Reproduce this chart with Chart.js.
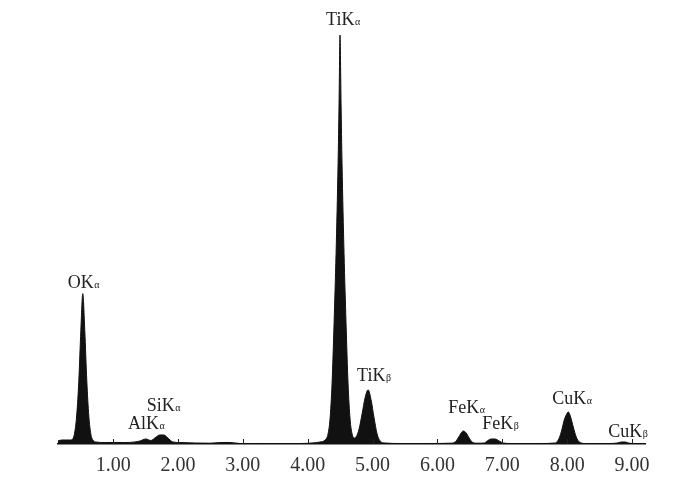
<!DOCTYPE html>
<html>
<head>
<meta charset="utf-8">
<script src="https://cdn.jsdelivr.net/npm/chart.js@4/dist/chart.umd.min.js"></script>
<style>
  html, body { margin: 0; padding: 0; background: #fff; }
  #wrap { width: 700px; height: 489px; }
</style>
</head>
<body>
<div id="wrap"><canvas id="edsChart"></canvas></div>
<script>
// EDS spectrum (energy in keV, intensity in arbitrary units)
const energy = [
  0.147, 0.208, 0.270, 0.332, 0.378, 0.409, 0.440, 0.471, 0.502, 0.532,
  0.563, 0.594, 0.625, 0.656, 0.687, 0.733, 0.872, 1.026, 1.181, 1.335,
  1.412, 1.505, 1.582, 1.644, 1.721, 1.782, 1.860, 1.921, 2.029, 2.261,
  2.492, 2.677, 2.801, 2.955, 3.264, 3.573, 3.881, 4.066, 4.190, 4.267,
  4.313, 4.344, 4.375, 4.406, 4.437, 4.468, 4.483, 4.498, 4.514, 4.529,
  4.560, 4.591, 4.622, 4.653, 4.684, 4.715, 4.745, 4.792, 4.838, 4.884,
  4.931, 4.977, 5.023, 5.070, 5.116, 5.193, 5.424, 5.887, 6.196, 6.273,
  6.319, 6.366, 6.397, 6.443, 6.489, 6.535, 6.613, 6.721, 6.767, 6.829,
  6.890, 6.952, 7.014, 7.122, 7.585, 7.816, 7.863, 7.909, 7.955, 8.002,
  8.017, 8.048, 8.094, 8.140, 8.187, 8.279, 8.665, 8.773, 8.835, 8.897,
  8.958, 9.050, 9.205
];
const counts = [
  3, 4, 4, 4, 5, 12, 30, 63, 113, 150,
  113, 63, 28, 10, 4, 2, 1.5, 1.5, 1.5, 2,
  3, 5, 3.5, 6, 9, 9, 5, 2, 1.5, 1,
  0.8, 1.5, 1.5, 0.5, 0.5, 0.5, 0.5, 1, 2, 4,
  10, 25, 60, 120, 190, 280, 340, 408, 340, 280,
  190, 120, 60, 25, 10, 6, 7, 15, 30, 46,
  54, 44, 26, 10, 3, 1, 0.5, 0.5, 0.8, 2,
  6, 11, 13, 11, 6, 2, 0.8, 1, 3, 5,
  5, 3, 1, 0.5, 0.5, 1, 4, 12, 24, 31,
  32, 28, 17, 7, 2, 0.5, 0.5, 1, 2, 2,
  0.8, 0.5, 0.5
];
const tickValues = [1, 2, 3, 4, 5, 6, 7, 8, 9];

// peak labels: element line, subscript, peak energy
const peakNames = ['OK', 'AlK', 'SiK', 'TiK', 'TiK', 'FeK', 'FeK', 'CuK', 'CuK'];
const peakSubs = ['α', 'α', 'α', 'α', 'β', 'α', 'β', 'α', 'β'];
const peakEnergies = [0.532, 1.505, 1.75, 4.498, 4.931, 6.397, 6.86, 8.017, 8.866];

// label offsets from the peak top (pixels)
const labelOffsets = [
  [-15, -6], [-18, -10], [-15, -24], [-14, -10], [-11, -9],
  [-15, -18], [-11, -10], [-16, -8], [-15, -5]
];

const serif = '"Liberation Serif", "DejaVu Serif", serif';

// highest spectrum value near an energy
function peakValue(e) {
  let best = 0;
  energy.forEach((x, i) => {
    if (Math.abs(x - e) <= 0.06 && counts[i] > best) best = counts[i];
  });
  return best;
}

// ticks drawn upward from the axis, plus peak labels
const spectrumDecor = {
  id: 'spectrumDecor',
  afterDatasetsDraw(chart) {
    const { ctx, scales: { x, y } } = chart;
    const base = y.getPixelForValue(0);
    ctx.save();
    ctx.strokeStyle = '#222';
    ctx.lineWidth = 1;
    tickValues.forEach(v => {
      const px = Math.round(x.getPixelForValue(v)) + 0.5;
      ctx.beginPath();
      ctx.moveTo(px, base);
      ctx.lineTo(px, base - 5);
      ctx.stroke();
    });

    ctx.fillStyle = '#222';
    ctx.textBaseline = 'alphabetic';
    ctx.textAlign = 'left';
    peakNames.forEach((name, i) => {
      const px = x.getPixelForValue(peakEnergies[i]) + labelOffsets[i][0];
      const py = y.getPixelForValue(peakValue(peakEnergies[i])) + labelOffsets[i][1];
      ctx.font = '18px ' + serif;
      ctx.fillText(name, px, py);
      const w = ctx.measureText(name).width;
      ctx.font = '10px ' + serif;
      ctx.fillText(peakSubs[i], px + w + 0.5, py);
    });
    ctx.restore();
  }
};

const ctx = document.getElementById('edsChart').getContext('2d');
new Chart(ctx, {
  type: 'line',
  data: {
    datasets: [{
      data: energy.map((e, i) => ({ x: e, y: counts[i] })),
      borderColor: '#111',
      backgroundColor: '#111',
      borderWidth: 1,
      fill: 'origin',
      pointRadius: 0,
      cubicInterpolationMode: 'monotone'
    }]
  },
  options: {
    responsive: true,
    maintainAspectRatio: false,
    animation: false,
    layout: { padding: { left: 58, right: 55, top: 23, bottom: 9 } },
    plugins: {
      legend: { display: false },
      tooltip: { enabled: false }
    },
    scales: {
      x: {
        type: 'linear',
        min: 0.15,
        max: 9.2,
        afterBuildTicks: scale => { scale.ticks = tickValues.map(v => ({ value: v })); },
        grid: { display: false },
        border: { display: true, color: '#111', width: 1.5 },
        ticks: {
          autoSkip: false,
          maxRotation: 0,
          padding: 2,
          color: '#333',
          font: { family: serif, size: 20 },
          callback: v => v.toFixed(2)
        }
      },
      y: {
        display: false,
        min: 0,
        max: 420
      }
    }
  },
  plugins: [spectrumDecor]
});
</script>
</body>
</html>
